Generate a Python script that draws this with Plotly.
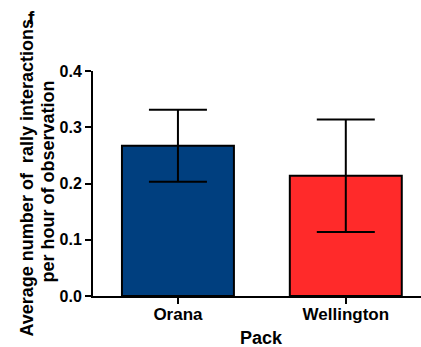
import plotly.graph_objects as go

# Rally interactions per hour of observation, by pack (mean ± SEM)
packs = ["Orana", "Wellington"]
mean_rate = [0.267, 0.214]
sem_rate = [0.064, 0.100]
bar_colors = ["#003f7f", "#ff2a2a"]
y_ticks = [0.0, 0.1, 0.2, 0.3, 0.4]

W, H = 421, 347
ML, MR, MT, MB = 93, 0, 71, 51
FONT = "Liberation Sans, Arial, sans-serif"


def px_x(px):
    return (px - ML) / (W - ML - MR)


def px_y(py):
    return (H - MB - py) / (H - MT - MB)


fig = go.Figure()
fig.add_trace(go.Bar(
    x=[0, 1],
    y=mean_rate,
    width=0.667,
    marker=dict(color=bar_colors, line=dict(color="black", width=2)),
    error_y=dict(type="data", array=sem_rate, visible=True,
                 color="black", thickness=2, width=29),
    showlegend=False,
))

fig.update_layout(
    width=W, height=H,
    margin=dict(l=ML, r=MR, t=MT, b=MB, pad=0),
    plot_bgcolor="white", paper_bgcolor="white",
    font=dict(family=FONT, color="black"),
    xaxis=dict(
        range=[-0.506, 1.448],
        tickmode="array", tickvals=[0, 1], ticktext=packs,
        ticks="outside", ticklen=6, tickwidth=2, tickcolor="black",
        ticklabelstandoff=-4,
        showline=True, linecolor="black", linewidth=2,
        showgrid=False, zeroline=False,
        tickfont=dict(family=FONT, size=17, weight="bold"),
    ),
    yaxis=dict(
        range=[0, 0.4],
        tickmode="array", tickvals=y_ticks,
        ticktext=[f"{v:.1f}" for v in y_ticks],
        ticks="outside", ticklen=6, tickwidth=2, tickcolor="black",
        showline=True, linecolor="black", linewidth=2,
        showgrid=False, zeroline=False,
        tickfont=dict(family=FONT, size=16, weight="bold"),
    ),
)

annotations = [
    dict(text="Pack", x=px_x((ML + W) / 2 + 4), y=px_y(338),
         font=dict(size=18, weight="bold")),
    dict(text="Average number of\u00a0\u00a0rally interactions",
         x=px_x(26.5), y=px_y(178), textangle=-90,
         font=dict(size=18, weight="bold")),
    dict(text="per hour of observation",
         x=px_x(47.5), y=px_y(181), textangle=-90,
         font=dict(size=18, weight="bold")),
    dict(text="f", x=px_x(31), y=px_y(17),
         font=dict(size=19, weight="bold")),
]
for a in annotations:
    fig.add_annotation(xref="paper", yref="paper", showarrow=False,
                       xanchor="center", yanchor="middle",
                       font_family=FONT, font_color="black", **a)

fig.write_html("out.html")
